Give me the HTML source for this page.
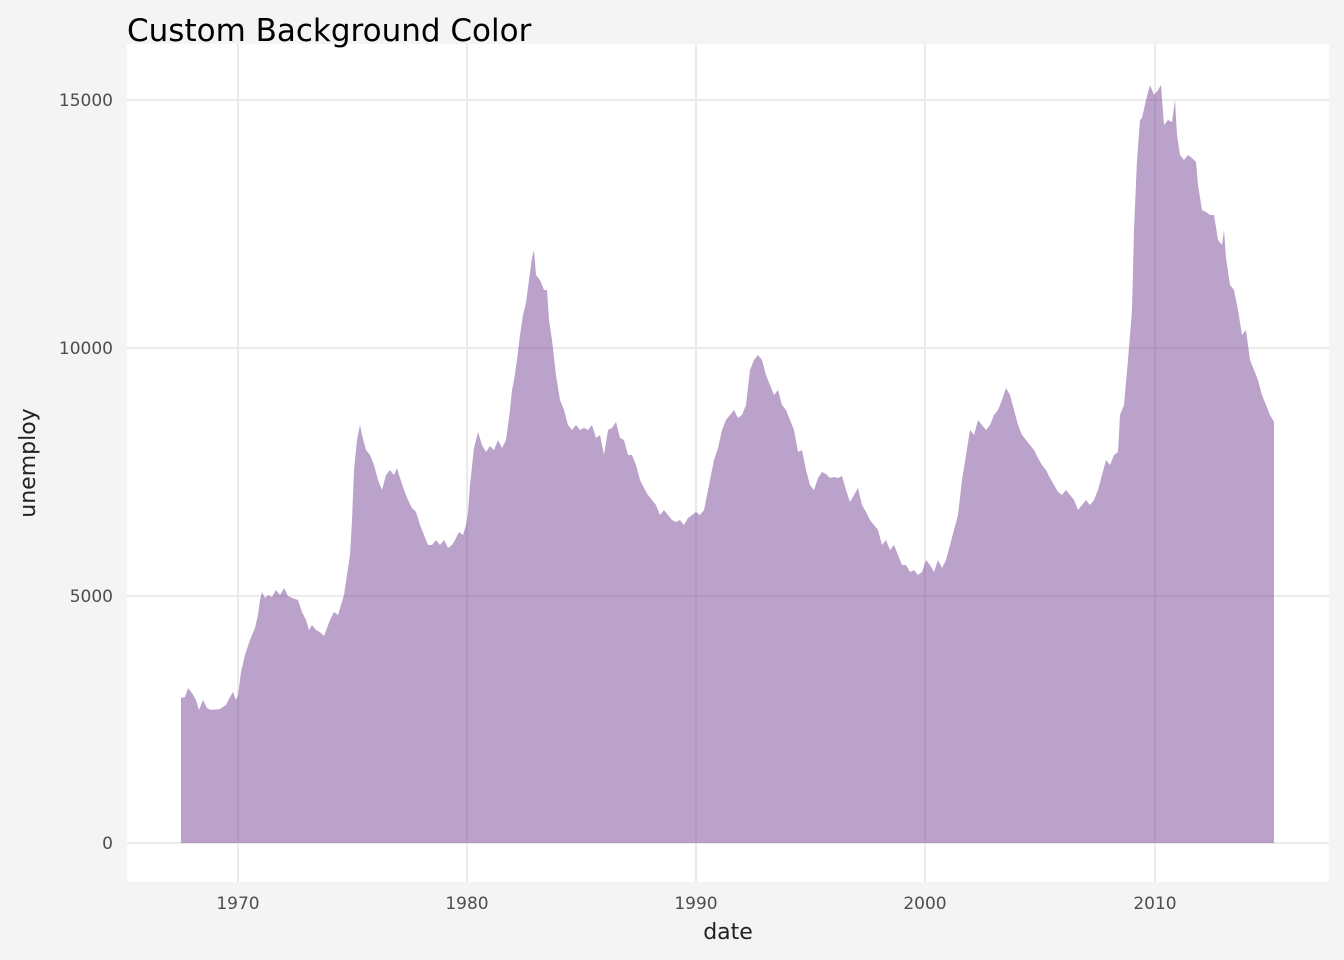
<!DOCTYPE html>
<html><head><meta charset="utf-8"><style>
body{margin:0;background:#f4f4f4;}
svg{display:block;font-family:"Liberation Sans","DejaVu Sans",sans-serif;}
</style></head><body>
<svg width="1344" height="960" viewBox="0 0 1344 960">
<rect width="1344" height="960" fill="#f4f4f4"/>
<rect x="127" y="44" width="1202" height="838" fill="#ffffff"/>
<g stroke="#ebebeb" stroke-width="2">
<line x1="127" x2="1329" y1="843" y2="843"/>
<line x1="127" x2="1329" y1="596" y2="596"/>
<line x1="127" x2="1329" y1="348" y2="348"/>
<line x1="127" x2="1329" y1="100" y2="100"/>
<line y1="44" y2="882" x1="238" x2="238"/>
<line y1="44" y2="882" x1="467" x2="467"/>
<line y1="44" y2="882" x1="696" x2="696"/>
<line y1="44" y2="882" x1="925" x2="925"/>
<line y1="44" y2="882" x1="1155" x2="1155"/>
</g>
<path id="area" fill="#6c3a8e" fill-opacity="0.47" d=""/>
<text x="127" y="41" font-size="31" fill="#000" font-family="DejaVu Sans, sans-serif">Custom Background Color</text>
<g font-size="17" fill="#4d4d4d" text-anchor="end" font-family="DejaVu Sans, sans-serif">
<text x="113" y="849">0</text>
<text x="113" y="602">5000</text>
<text x="113" y="354">10000</text>
<text x="113" y="106">15000</text>
</g>
<g font-size="17" fill="#4d4d4d" text-anchor="middle" font-family="DejaVu Sans, sans-serif">
<text x="238" y="909">1970</text>
<text x="467" y="909">1980</text>
<text x="696" y="909">1990</text>
<text x="925" y="909">2000</text>
<text x="1155" y="909">2010</text>
</g>
<text x="728" y="939" font-size="22" fill="#222" text-anchor="middle" font-family="DejaVu Sans, sans-serif">date</text>
<text transform="translate(35,463) rotate(-90)" font-size="22" fill="#222" text-anchor="middle" font-family="DejaVu Sans, sans-serif">unemploy</text>
</svg>
<script>
var p=[181,698,185,697,188,688,192,693,196,700,199,710,203,700,207,708,211,710,220,709,226,705,230,697,233,692,236,700,238,695,241,672,245,655,250,640,255,628,258,615,260,600,262,592,265,598,268,595,272,597,276,590,280,595,284,588,288,596,292,598,298,600,302,612,306,620,309,630,312,625,316,630,320,632,324,636,327,628,330,620,334,612,338,615,341,605,344,595,347,575,350,555,352,520,354,470,357,440,360,425,362,435,366,450,370,455,374,465,378,480,382,490,386,475,390,470,394,475,397,468,400,478,404,490,408,500,412,508,416,512,420,525,424,535,428,545,432,545,436,540,440,545,444,540,448,548,452,545,455,540,459,532,463,535,466,525,468,512,470,485,474,448,478,432,482,445,486,452,490,446,494,450,498,440,502,448,506,440,510,410,512,390,514,380,517,360,520,335,523,315,526,303,529,280,532,258,534,250,536,275,540,280,544,290,547,290,549,320,552,340,556,375,560,400,564,410,568,425,572,430,576,425,580,430,584,428,588,430,592,425,596,438,600,435,604,455,608,430,612,428,616,422,620,438,624,440,628,455,632,455,636,465,640,480,644,488,648,495,652,500,656,505,660,515,664,510,668,515,672,520,676,522,680,520,684,525,688,518,692,515,696,512,700,515,704,510,706,500,710,480,714,460,718,448,722,430,726,420,730,415,734,410,738,418,742,415,746,405,750,370,754,360,758,355,762,360,766,375,770,385,774,395,778,390,782,405,786,410,790,420,794,430,798,452,802,450,806,470,810,485,814,490,818,478,822,472,826,474,830,478,834,477,838,478,842,476,846,490,850,502,854,495,858,488,862,505,866,512,870,520,874,525,878,530,882,545,886,540,890,550,894,545,898,555,902,565,906,565,910,572,914,570,918,575,922,572,926,560,930,565,934,572,938,560,942,568,946,560,950,545,954,530,958,515,962,480,966,455,970,430,974,435,978,420,982,425,986,430,990,425,994,415,998,410,1002,400,1006,388,1010,395,1014,410,1018,425,1022,435,1026,440,1030,445,1034,450,1038,458,1042,465,1046,470,1050,478,1054,485,1058,492,1062,495,1066,490,1070,495,1074,500,1078,510,1082,505,1086,500,1090,505,1094,500,1098,490,1102,475,1106,460,1110,465,1114,455,1118,452,1120,415,1124,405,1128,360,1132,310,1134,230,1137,160,1140,120,1142,118,1146,100,1150,85,1154,95,1158,90,1161,85,1164,125,1168,120,1172,122,1175,100,1177,135,1180,155,1184,160,1188,155,1192,158,1196,162,1198,185,1202,210,1206,212,1210,215,1214,215,1218,240,1222,245,1224,230,1226,258,1230,285,1234,290,1238,310,1242,335,1246,330,1250,360,1254,370,1258,380,1262,395,1266,405,1270,415,1274,422];
var d="M181,843";for(var i=0;i<p.length;i+=2)d+="L"+p[i]+","+p[i+1];d+="L1274,843Z";
document.getElementById("area").setAttribute("d",d);
</script>
</body></html>
